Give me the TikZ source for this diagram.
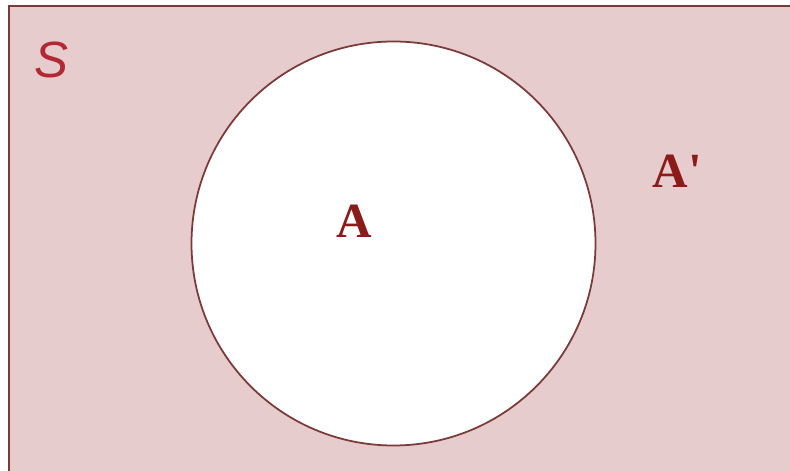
\documentclass[tikz,border=0pt]{standalone}
\usepackage{fontspec}
\setmainfont{Liberation Serif}
\newfontfamily\setfont{Liberation Sans}
\definecolor{setbg}{HTML}{E6CCCC}
\definecolor{setline}{HTML}{7A3A3A}
\definecolor{labred}{HTML}{8B1A1A}
\definecolor{sred}{HTML}{B02A35}
\begin{document}
\begin{tikzpicture}[every node/.style={text=labred, font=\fontsize{28}{30}\selectfont\bfseries}, line width=1pt]
  \useasboundingbox (0,0) rectangle (15.8,9.42);
  \clip (0,0) rectangle (15.8,9.42);
  \fill[white] (0,0) rectangle (15.8,9.42);
  \fill[setbg] (0.18,-0.5) rectangle (16.3,9.3);
  \draw[setline] (0.18,-0.5) -- (0.18,9.3) -- (16.3,9.3);
  \draw[setline, fill=white] (7.87,4.55) circle (4.04);
  \node[text=sred, font=\setfont\itshape\fontsize{29}{31}\selectfont] (univ) at (1.02,8.22) {S};
  \node (seta) at (7.09,4.99) {A};
  \node (compa) at (13.55,5.99) {A\textquotesingle};
\end{tikzpicture}
\end{document}
